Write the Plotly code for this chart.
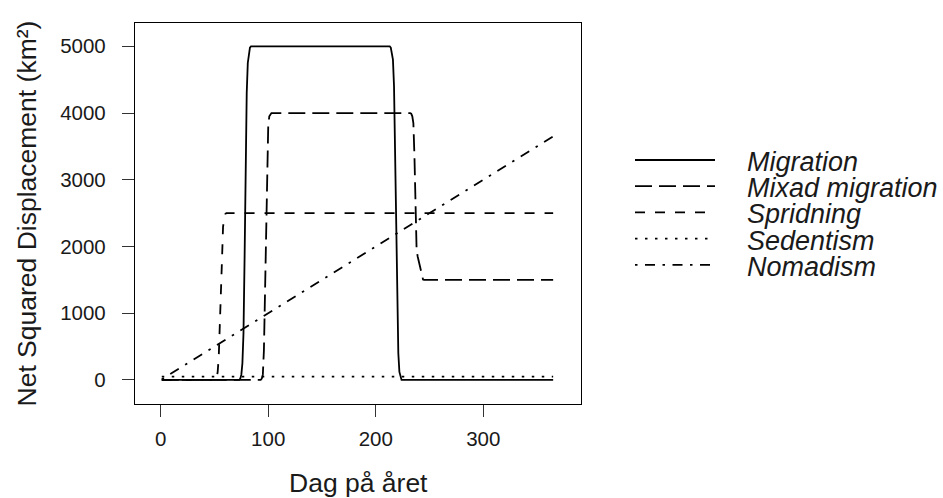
import plotly.graph_objects as go

# Net squared displacement (km²) by day of year for five movement strategies
migration_day = [1, 73, 74, 75, 76, 77, 78, 79, 80, 81, 82, 83, 84,
                 213, 214, 215, 216, 217, 218, 219, 220, 221, 222, 223, 224, 365]
migration_nsd = [0, 0, 20, 80, 250, 700, 1800, 3300, 4300, 4750, 4920, 4980, 5000,
                 5000, 4980, 4900, 4800, 4400, 3400, 2000, 1000, 400, 120, 30, 0, 0]

mixed_day = [1, 93, 94, 95, 96, 97, 98, 99, 100, 101, 102, 103,
             232, 233, 234, 235, 236, 237, 238, 239, 240, 241, 242, 243, 244, 245, 365]
mixed_nsd = [0, 0, 20, 80, 450, 1300, 2300, 3300, 3800, 3950, 3990, 4000,
             4000, 3990, 3950, 3850, 3350, 2500, 1950, 1850, 1780, 1700, 1600, 1530, 1505, 1500, 1500]

dispersal_day = [1, 51, 52, 53, 54, 55, 56, 57, 58, 59, 60, 61, 365]
dispersal_nsd = [0, 0, 30, 120, 350, 750, 1300, 1800, 2300, 2440, 2485, 2500, 2500]

sedentary_day = [1, 365]
sedentary_nsd = [50, 50]

nomad_day = [1, 365]
nomad_nsd = [10, 3650]

names = ["Migration", "Mixad migration", "Spridning", "Sedentism", "Nomadism"]
dashes = ["solid", "17px,7px", "10px,10px", "2.5px,7.5px", "2.5px,7.5px,10px,7.5px"]
series = [(migration_day, migration_nsd), (mixed_day, mixed_nsd),
          (dispersal_day, dispersal_nsd), (sedentary_day, sedentary_nsd),
          (nomad_day, nomad_nsd)]

x_ticks = [0, 100, 200, 300]
y_ticks = [0, 1000, 2000, 3000, 4000, 5000]

FONT = "Liberation Sans, Arial, Helvetica, sans-serif"
INK = "#1a1a1a"
LW = 1.8

fig = go.Figure()
for name, dash, (d, v) in zip(names, dashes, series):
    fig.add_trace(go.Scatter(x=d, y=v, mode="lines", name=name, showlegend=False,
                             line=dict(color="black", width=LW, dash=dash)))

# plot region in pixels: x 135..581, y 23..404
L, R, T, B = 135, 581, 23, 404
W, H = R - L, B - T


def px_x(p):
    return (p - L) / W


def px_y(p):
    return (B - p) / H


axis_common = dict(showline=True, mirror=True, linecolor="black", linewidth=1.3,
                   ticks="outside", ticklen=12, tickwidth=1.2, tickcolor="#333",
                   showgrid=False, zeroline=False,
                   tickfont=dict(family=FONT, size=20.5, color=INK))

fig.update_layout(
    width=943, height=498,
    margin=dict(l=L, r=943 - R, t=T, b=498 - B),
    paper_bgcolor="white", plot_bgcolor="white",
    showlegend=False,
    xaxis=dict(range=[-23.9, 390.9], tickvals=x_ticks, ticktext=[str(t) for t in x_ticks],
               ticklabelstandoff=4, **axis_common),
    yaxis=dict(range=[-360, 5349], tickvals=y_ticks, ticktext=[str(t) for t in y_ticks],
               ticklabelstandoff=12, **axis_common),
)

# axis titles
fig.add_annotation(text="Dag på året", xref="paper", yref="paper",
                   x=px_x(358), y=px_y(483), xanchor="center", yanchor="middle",
                   showarrow=False, font=dict(family=FONT, size=26.5, color=INK))
fig.add_annotation(text="Net Squared Displacement (km²)", xref="paper", yref="paper",
                   x=px_x(26), y=px_y(213.5), xanchor="center", yanchor="middle",
                   textangle=-90, showarrow=False,
                   font=dict(family=FONT, size=26.5, color=INK))

# legend drawn beside the plot: line samples and italic labels
for i, (name, dash) in enumerate(zip(names, dashes)):
    ly = 160 + 26.2 * i
    fig.add_shape(type="line", xref="paper", yref="paper",
                  x0=px_x(635), x1=px_x(715), y0=px_y(ly), y1=px_y(ly),
                  line=dict(color="black", width=LW, dash=dash))
    fig.add_annotation(text="<i>%s</i>" % name, xref="paper", yref="paper",
                       x=px_x(745), y=px_y(162 + 26.2 * i), xanchor="left", yanchor="middle",
                       showarrow=False, font=dict(family=FONT, size=27, color=INK))

fig.write_html("out.html")
